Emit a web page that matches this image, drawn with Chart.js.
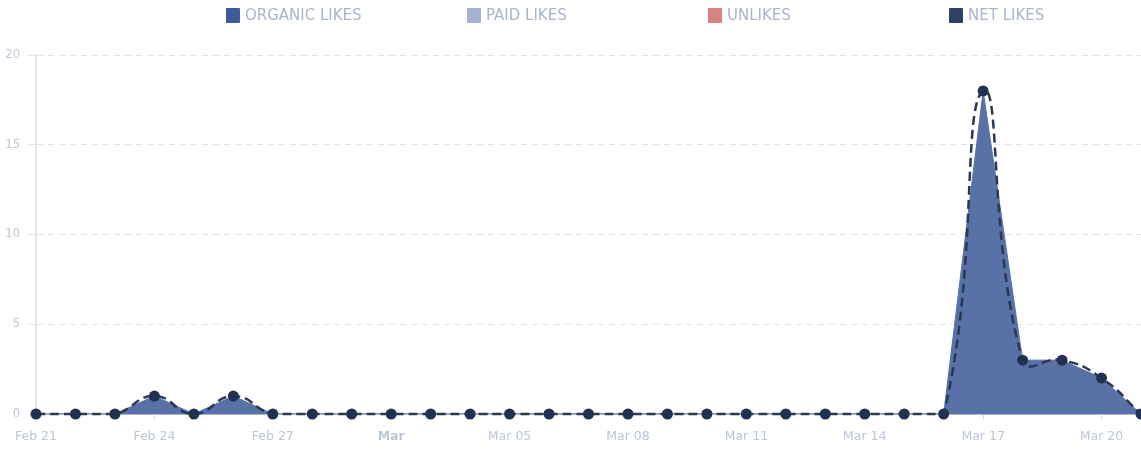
<!DOCTYPE html>
<html lang="en">
<head>
  <meta charset="UTF-8">
  <title>Page likes</title>
  <script src="https://cdn.jsdelivr.net/npm/chart.js"></script>
  <style>
    body {
      margin: 0;
      background: #fff;
      font-family: "DejaVu Sans", sans-serif;
      overflow: hidden;
    }

    .wrap {
      position: relative;
      width: 1141px;
      height: 450px;
    }

    .wrap canvas {
      display: block;
    }

    /* legend above the plot, each item a fixed slot */
    .legend {
      position: absolute;
      top: 7px;
      left: 226px;
      display: flex;
      z-index: 2;
    }

    .legend-item {
      width: 241px;
      display: flex;
      align-items: center;
      font-size: 15px;
      line-height: 16px;
      color: #aab5c7;
    }

    .legend-item span.box {
      width: 14px;
      height: 15px;
      margin-right: 5px;
      border-radius: 1px;
    }
  </style>
</head>
<body>
<div class="wrap">
  <div class="legend" id="legend"></div>
  <canvas id="chart" width="1141" height="450"></canvas>
</div>

<script>
  // categories: one per day
  const days = [
    'Feb 21', 'Feb 22', 'Feb 23', 'Feb 24', 'Feb 25', 'Feb 26', 'Feb 27', 'Feb 28',
    'Mar 01', 'Mar 02', 'Mar 03', 'Mar 04', 'Mar 05', 'Mar 06', 'Mar 07', 'Mar 08',
    'Mar 09', 'Mar 10', 'Mar 11', 'Mar 12', 'Mar 13', 'Mar 14', 'Mar 15', 'Mar 16',
    'Mar 17', 'Mar 18', 'Mar 19', 'Mar 20', 'Mar 21'
  ];

  // labels shown under the axis (every third day)
  const tickLabels = [
    'Feb 21', '', '', 'Feb 24', '', '', 'Feb 27', '', '', 'Mar', '', '', 'Mar 05', '', '',
    'Mar 08', '', '', 'Mar 11', '', '', 'Mar 14', '', '', 'Mar 17', '', '', 'Mar 20', ''
  ];

  const yTicks = [0, 5, 10, 15, 20];

  // series
  const organicLikes = [0, 0, 0, 1, 0, 1, 0, 0, 0, 0, 0, 0, 0, 0, 0, 0, 0, 0, 0, 0, 0, 0, 0, 0, 18, 3, 3, 2, 0];
  const paidLikes    = [0, 0, 0, 0, 0, 0, 0, 0, 0, 0, 0, 0, 0, 0, 0, 0, 0, 0, 0, 0, 0, 0, 0, 0, 0, 0, 0, 0, 0];
  const unlikes      = [0, 0, 0, 0, 0, 0, 0, 0, 0, 0, 0, 0, 0, 0, 0, 0, 0, 0, 0, 0, 0, 0, 0, 0, 0, 0, 0, 0, 0];
  const netLikes     = [0, 0, 0, 1, 0, 1, 0, 0, 0, 0, 0, 0, 0, 0, 0, 0, 0, 0, 0, 0, 0, 0, 0, 0, 18, 3, 3, 2, 0];

  const seriesNames = ['ORGANIC LIKES', 'PAID LIKES', 'UNLIKES', 'NET LIKES'];
  const seriesColors = ['#3d5a9a', '#a6b3cf', '#d78383', '#2f4064'];

  // html legend with fixed-width slots
  const legend = document.getElementById('legend');
  seriesNames.forEach((name, i) => {
    const item = document.createElement('div');
    item.className = 'legend-item';
    item.innerHTML = `<span class="box" style="background:${seriesColors[i]}"></span>${name}`;
    legend.appendChild(item);
  });

  const tickColor = '#bdc6d4';

  const ctx = document.getElementById('chart').getContext('2d');
  new Chart(ctx, {
    type: 'line',
    data: {
      labels: days,
      datasets: [
        {
          label: 'NET LIKES',
          data: netLikes,
          borderColor: '#2b3854',
          borderWidth: 2.5,
          borderDash: [9, 5],
          tension: 0.5,
          fill: false,
          pointRadius: 5.5,
          pointBackgroundColor: '#22314f',
          pointBorderColor: '#22314f',
          pointBorderWidth: 0,
          clip: false,
          order: 0
        },
        {
          label: 'ORGANIC LIKES',
          data: organicLikes,
          borderColor: '#5872a7',
          backgroundColor: '#5872a7',
          borderWidth: 1,
          tension: 0,
          fill: 'origin',
          pointRadius: 0,
          order: 1
        },
        {
          label: 'PAID LIKES',
          data: paidLikes,
          borderColor: '#aab6cc',
          borderWidth: 2,
          tension: 0,
          fill: false,
          pointRadius: 0,
          clip: false,
          order: 2
        },
        {
          label: 'UNLIKES',
          data: unlikes,
          borderColor: 'rgba(0,0,0,0)',
          borderWidth: 0,
          fill: false,
          pointRadius: 0,
          order: 3
        }
      ]
    },
    options: {
      responsive: false,
      maintainAspectRatio: false,
      animation: false,
      layout: {
        autoPadding: false,
        padding: { top: 55, left: 6, right: 0, bottom: 0 }
      },
      plugins: {
        legend: { display: false },
        tooltip: { enabled: false }
      },
      scales: {
        x: {
          offset: false,
          afterFit: (scale) => {
            scale.height = 36;
            scale.paddingRight = 0;
          },
          border: { display: false },
          grid: {
            drawOnChartArea: false,
            drawTicks: true,
            tickLength: 5,
            color: (c) => (tickLabels[c.index] ? '#d3d9e2' : 'rgba(0,0,0,0)')
          },
          ticks: {
            autoSkip: false,
            maxRotation: 0,
            padding: 10,
            color: tickColor,
            font: (c) => ({
              family: '"DejaVu Sans", sans-serif',
              size: 12.5,
              weight: c.tick && c.tick.label === 'Mar' ? 'bold' : 'normal'
            }),
            callback: (value, index) => tickLabels[index]
          }
        },
        y: {
          min: yTicks[0],
          max: yTicks[yTicks.length - 1],
          afterFit: (scale) => { scale.width = 30; },
          border: { display: true, color: '#e2e5ea', width: 2, dash: [6, 5] },
          grid: {
            color: '#e0e3e8',
            lineWidth: 1,
            drawTicks: true,
            tickLength: 7,
            tickBorderDash: []
          },
          afterBuildTicks: (scale) => {
            scale.ticks = yTicks.map(v => ({ value: v }));
          },
          ticks: {
            padding: 9,
            color: tickColor,
            font: { family: '"DejaVu Sans", sans-serif', size: 11.5 }
          }
        }
      }
    }
  });
</script>
</body>
</html>
